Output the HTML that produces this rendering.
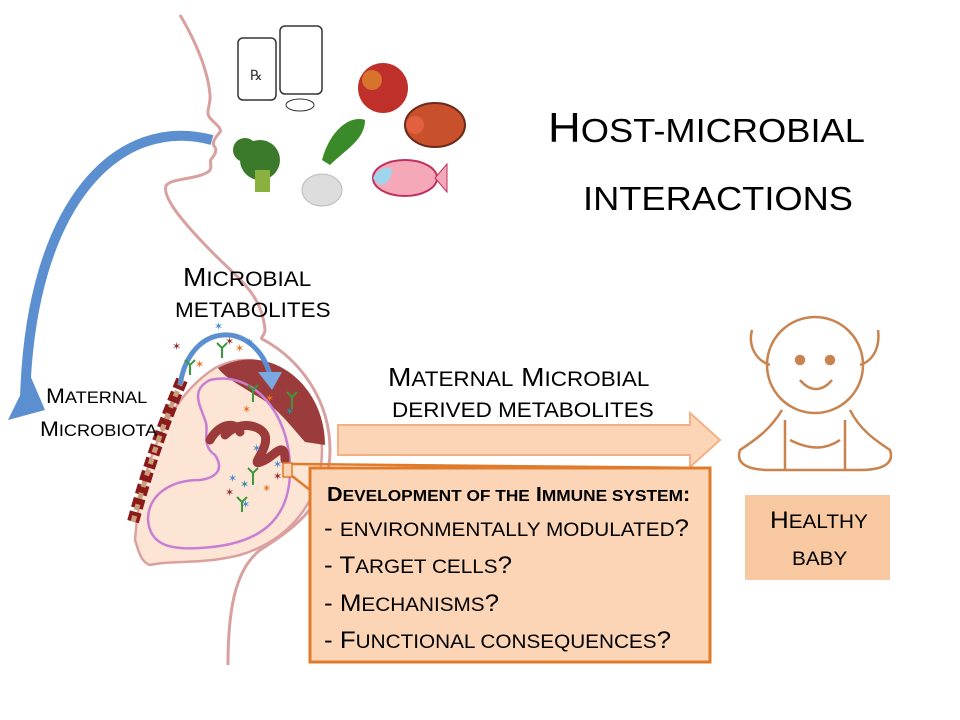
<!DOCTYPE html>
<html><head><meta charset="utf-8"><style>
body{margin:0;background:#fff;width:960px;height:720px;overflow:hidden;position:relative;font-family:"Liberation Sans",sans-serif;}
.t{position:absolute;color:#000;white-space:nowrap;transform:scaleX(1.08);transform-origin:0 0;}
.s{font-size:.8em;text-transform:uppercase;}
</style></head><body>
<svg width="960" height="720" style="position:absolute;left:0;top:0">
<path d="M180,15 C195,40 208,70 210,95 C211,105 205,112 210,118 C216,125 222,128 220,132 C215,138 212,142 214,146 C218,150 214,156 212,158 C208,162 214,168 208,172 C195,180 170,178 166,186 C162,198 185,225 215,255 C240,280 262,295 265,330 C265,336 258,338 264,340 C300,360 330,400 330,450 C330,500 300,525 260,550 C235,570 228,610 228,665" fill="none" stroke="#d9a0a0" stroke-width="3"/>
<path d="M215,368 C270,340 320,390 322,450 C322,500 290,540 240,555 C200,565 170,560 150,565 C140,562 138,548 135,540 C140,470 165,400 215,368 Z" fill="#fde5d6" stroke="#dba0a0" stroke-width="2.5"/>
<path d="M218,368 C270,340 325,385 325,445 L305,442 C290,425 275,405 255,395 C240,385 225,378 218,368 Z" fill="#9b3b3b"/>
<path d="M210,380 C250,370 290,410 290,470 C290,520 260,545 200,548 C170,550 150,545 148,520 C148,495 170,480 200,480 C215,478 225,470 215,455 C200,445 210,430 205,420 C200,405 190,390 210,380 Z" fill="none" stroke="#c77fd4" stroke-width="2.5"/>
<path d="M225,435 C240,420 260,425 265,435 C270,450 245,470 265,460 C275,455 285,440 285,460" fill="none" stroke="#9b3b3b" stroke-width="9" stroke-linecap="round"/>
<path d="M210,440 C218,425 235,420 240,432" fill="none" stroke="#9b3b3b" stroke-width="9" stroke-linecap="round"/>
<path d="M182,380 C165,420 150,460 133,522" fill="none" stroke="#8b1a1a" stroke-width="12" stroke-dasharray="10 4"/>
<path d="M182,380 C165,420 150,460 133,522" fill="none" stroke="#c9a07a" stroke-width="5" stroke-dasharray="6 6"/>
<path d="M212,140 C120,115 30,200 25,400" fill="none" stroke="#5b8fd0" stroke-width="10"/>
<polygon points="8,420 30,375 45,410" fill="#5b8fd0"/>
<path d="M180,385 C190,320 255,320 270,375" fill="none" stroke="#5b8fd0" stroke-width="5"/>
<polygon points="258,372 282,372 272,390" fill="#7aa8e0"/>
<g font-size="11" font-family="DejaVu Sans">
<text x="172" y="350" fill="#8b3030">✶</text><text x="214" y="330" fill="#4a8ad0">✶</text><text x="225" y="345" fill="#8b3030">✶</text><text x="235" y="352" fill="#ee7020">✶</text><text x="245" y="346" fill="#4a8ad0">✶</text><text x="195" y="368" fill="#ee7020">✶</text>
<text x="265" y="402" fill="#ee7020">✶</text><text x="242" y="413" fill="#ee7020">✶</text><text x="285" y="415" fill="#2a8aa0">✶</text>
<text x="252" y="452" fill="#4a8ad0">✶</text><text x="273" y="468" fill="#4a8ad0">✶</text><text x="228" y="482" fill="#4a8ad0">✶</text><text x="240" y="488" fill="#2a8aa0">✶</text><text x="225" y="496" fill="#8b3030">✶</text><text x="262" y="492" fill="#ee7020">✶</text><text x="241" y="508" fill="#4a8ad0">✶</text><text x="273" y="480" fill="#8b3030">✶</text>
</g>
<g stroke="#3a9a3a" stroke-width="2" fill="none">
<path d="M185,360 l5,5 l5,-5 M190,365 v10"/><path d="M217,343 l5,5 l5,-5 M222,348 v10"/><path d="M248,385 l5,5 l5,-5 M253,390 v12"/><path d="M287,392 l5,5 l5,-5 M292,397 v12"/><path d="M248,468 l5,5 l5,-5 M253,473 v12"/><path d="M237,497 l5,5 l5,-5 M242,502 v10"/>
</g>
<polygon points="338,425 690,425 690,413 720,440 690,467 690,455 338,455" fill="#fbd5b5" stroke="#f4b183" stroke-width="2"/>
<rect x="283" y="463" width="9" height="14" fill="#fbd5b5" stroke="#e07b2b" stroke-width="1.5"/>
<path d="M292,464 L710,468 M292,476 L310,490" stroke="#e07b2b" stroke-width="2.5" fill="none"/>
<rect x="310" y="468" width="400" height="194" fill="#fbd5b5" stroke="#e07b2b" stroke-width="3"/>
<rect x="745" y="495" width="145" height="85" fill="#f8c9a0"/>
<rect x="238" y="38" width="38" height="62" rx="5" fill="#fff" stroke="#333" stroke-width="1.5"/>
<rect x="280" y="26" width="42" height="68" rx="5" fill="#fff" stroke="#333" stroke-width="1.5"/>
<text x="250" y="80" font-size="14" fill="#333">℞</text>
<ellipse cx="300" cy="105" rx="14" ry="6" fill="#fff" stroke="#333"/>
<circle cx="383" cy="88" r="25" fill="#c0302a"/><circle cx="372" cy="80" r="10" fill="#e8a030" opacity=".6"/>
<ellipse cx="435" cy="125" rx="30" ry="22" fill="#c8502a" stroke="#6b2a1a" stroke-width="2"/><circle cx="415" cy="125" r="9" fill="#e06040"/>
<path d="M322,160 C330,130 350,115 365,120 C365,140 345,150 330,165 Z" fill="#3a8a2a"/>
<circle cx="260" cy="160" r="20" fill="#3a7a2a"/><circle cx="245" cy="150" r="12" fill="#3a7a2a"/><rect x="255" y="170" width="15" height="22" fill="#8ab040"/>
<ellipse cx="322" cy="190" rx="20" ry="16" fill="#ddd" stroke="#bbb"/>
<ellipse cx="405" cy="178" rx="32" ry="18" fill="#f4a8b8" stroke="#c03060" stroke-width="2"/><path d="M435,178 l12,-14 v28 z" fill="#f4a8b8" stroke="#c03060"/><path d="M373,178 C378,168 388,165 392,170 C390,185 380,190 373,178z" fill="#9ed4ec"/>
<g fill="none" stroke="#c8834f" stroke-width="2.5">
<circle cx="815" cy="365" r="48"/>
<circle cx="800" cy="360" r="4" fill="#c8834f"/><circle cx="830" cy="360" r="4" fill="#c8834f"/>
<path d="M800,380 C810,392 822,392 832,380"/>
<path d="M770,365 C755,360 748,345 752,330 M860,365 C875,360 880,345 878,330"/>
<path d="M782,410 C770,430 755,440 740,450 C735,465 750,470 770,470 L860,470 C880,470 895,465 890,450 C875,440 860,430 850,410"/>
<path d="M785,420 L785,470 M845,420 L845,470 M790,440 C810,450 825,450 840,440"/>
</g>
</svg>
<div class="t" style="left:548px;top:104px;font-size:42px;">H<span class="s">ost-microbial</span></div>
<div class="t" style="left:583px;top:172px;font-size:42px;"><span class="s">interactions</span></div>
<div class="t" style="left:183px;top:262px;font-size:26px;">M<span class="s">icrobial</span></div>
<div class="t" style="left:175px;top:293px;font-size:26px;"><span class="s">metabolites</span></div>
<div class="t" style="left:46px;top:385px;font-size:21px;">M<span class="s">aternal</span></div>
<div class="t" style="left:40px;top:418px;font-size:21px;">M<span class="s">icrobiota</span></div>
<div class="t" style="left:388px;top:362px;font-size:26px;">M<span class="s">aternal</span> M<span class="s">icrobial</span></div>
<div class="t" style="left:392px;top:393px;font-size:26px;"><span class="s">derived metabolites</span></div>
<div class="t" style="left:327px;top:484px;font-size:20px;font-weight:bold;">D<span class="s">evelopment of the</span> I<span class="s">mmune system</span>:</div>
<div class="t" style="left:324px;top:515px;font-size:24px;">- <span class="s">environmentally modulated</span>?</div>
<div class="t" style="left:324px;top:552px;font-size:24px;">- T<span class="s">arget cells</span>?</div>
<div class="t" style="left:324px;top:590px;font-size:24px;">- M<span class="s">echanisms</span>?</div>
<div class="t" style="left:324px;top:627px;font-size:24px;">- F<span class="s">unctional consequences</span>?</div>
<div class="t" style="left:770px;top:507px;font-size:24px;">H<span class="s">ealthy</span></div>
<div class="t" style="left:792px;top:544px;font-size:24px;"><span class="s">baby</span></div>
</body></html>
